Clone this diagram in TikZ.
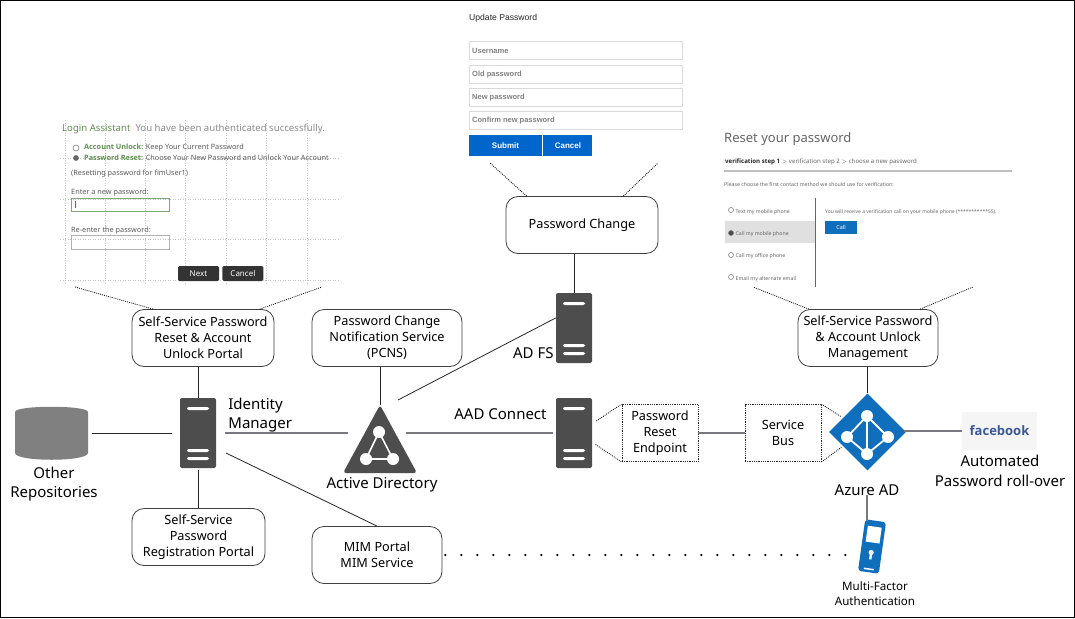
\documentclass[tikz,border=0pt]{standalone}
\usepackage{fontspec}
\setmainfont{Noto Sans}
\newfontfamily\formfont{Liberation Sans}
\newfontfamily\strongfont{Open Sans}
\usetikzlibrary{positioning,shapes.geometric}
\definecolor{srvgray}{HTML}{4D4D4D}
\definecolor{azblue}{HTML}{0F6FBD}
\definecolor{linegray}{HTML}{77797E}
\definecolor{formblue}{HTML}{0066CC}
\definecolor{loginGreen}{HTML}{5F9150}
\definecolor{fbblue}{HTML}{3B5998}
\begin{document}
\begin{tikzpicture}[x=1pt,y=-1pt,
    main/.style = {draw=black!75, rounded corners=12pt, line width=.8pt, align=center, inner sep=0pt,
      minimum height=57pt, font=\fontsize{12.7}{16}\selectfont},
    relay/.style = {draw=black!85, densely dotted, line width=.8pt, align=center, inner sep=0pt,
      minimum width=76pt, minimum height=57pt, font=\fontsize{12.7}{16}\selectfont},
    server/.style = {fill=srvgray, rounded corners=2pt, inner sep=0pt, minimum width=36pt, minimum height=70pt,
      path picture={
        \fill[white] ([xshift=7pt,yshift=-9pt]path picture bounding box.north west) rectangle ++(22pt,-3pt);
        \fill[white] ([xshift=7pt,yshift=-51pt]path picture bounding box.north west) rectangle ++(22pt,-3pt);
        \fill[white] ([xshift=7pt,yshift=-59pt]path picture bounding box.north west) rectangle ++(22pt,-3pt);}},
    caption/.style = {inner sep=0pt, align=center, font=\fontsize{15}{19.5}\selectfont},
    small/.style = {inner sep=0pt, align=center, font=\fontsize{11.6}{15.5}\selectfont},
    link/.style = {draw=black!85, line width=.8pt},
    heavy/.style = {draw=linegray, line width=1.3pt},
    leader/.style = {draw=black, line width=.8pt, dash pattern=on .9pt off 1.1pt},
    hub/.style = {white, line width=1.6pt},
    field/.style = {draw=black!15, line width=1pt, minimum width=213pt, minimum height=18pt, inner sep=0pt},
    hint/.style = {anchor=west, inner sep=0pt, text=black!50, font=\formfont\bfseries\fontsize{7.5}{9}\selectfont},
    formbtn/.style = {fill=formblue, text=white, minimum height=21pt, inner sep=0pt, font=\formfont\bfseries\fontsize{8}{9}\selectfont},
    logintxt/.style = {anchor=west, inner sep=0pt, text=black!65, font=\fontsize{7.3}{9}\selectfont},
    loginbtn/.style = {fill=black!80, text=white, rounded corners=1.5pt, minimum width=41pt, minimum height=15pt, inner sep=0pt, font=\fontsize{8}{9}\selectfont},
    resettxt/.style = {anchor=west, inner sep=0pt, text=black!60, font=\fontsize{5.2}{7}\selectfont},
    radio/.style = {circle, draw=black!55, line width=.5pt, fill=white, inner sep=0pt, minimum size=6pt}]
  \useasboundingbox (0,0) rectangle (1075,618);
  \fill[white] (0,0) rectangle (1075,618);
  \draw[black, line width=1.4pt] (.7,.7) rectangle (1074.3,617.3);
  %
  \foreach \gx in {65,105,145,185,226,266,307}
    \draw[black!22, dotted, line width=.5pt] (\gx,120) -- (\gx,283);
  \foreach \gy in {158,199,239,280}
    \draw[black!22, dotted, line width=.5pt] (60,\gy) -- (340,\gy);
  \node[inner sep=0pt, anchor=west, font=\fontsize{9.6}{12}\selectfont] (assist) at (62,129)
    {\textcolor{loginGreen}{Login Assistant}\hspace{5pt}\textcolor{black!45}{You have been authenticated successfully.}};
  \node[radio] (unlockdot) at (76,148) {};
  \node[radio, fill=black!60, draw=black!60, minimum size=5pt] (resetdot) at (76,158) {};
  \node[logintxt] (unlock) at (84,148) {\textcolor{loginGreen}{\strongfont\bfseries Account Unlock:} Keep Your Current Password};
  \node[logintxt] (reset) at (84,158) {\textcolor{loginGreen}{\strongfont\bfseries Password Reset:} Choose Your New Password and Unlock Your Account};
  \node[logintxt] (fimuser) at (71,174) {(Resetting password for fimUser1)};
  \node[logintxt] (enter) at (71,193) {Enter a new password:};
  \node[draw=loginGreen!80, line width=1pt, minimum width=98pt, minimum height=13pt, inner sep=0pt, anchor=north west] (newpw) at (71,198) {};
  \draw[black!60, line width=.5pt] (75,201) -- (75,208);
  \node[logintxt] (reenter) at (71,231) {Re-enter the password:};
  \node[draw=black!30, line width=1pt, minimum width=98pt, minimum height=14pt, inner sep=0pt, anchor=north west] (again) at (71,235) {};
  \node[loginbtn] (next) at (198.5,273.5) {Next};
  \node[loginbtn, right=3pt of next] (cancela) {Cancel};
  %
  \node[anchor=west, inner sep=0pt, text=black!85, font=\formfont\fontsize{8.6}{10}\selectfont] (update) at (469,18.5) {Update Password};
  \node[field] (user) at (575.5,50.5) {};
  \node[field] (oldpw) at (575.5,74) {};
  \node[field] (freshpw) at (575.5,97) {};
  \node[field] (confirm) at (575.5,120) {};
  \node[hint] (userh) at (472,50.5) {Username};
  \node[hint] (oldh) at (472,74.5) {Old password};
  \node[hint] (newh) at (472,97.5) {New password};
  \node[hint] (confh) at (472,120.5) {Confirm new password};
  \node[formbtn, minimum width=73pt] (submit) at (505.5,145.5) {Submit};
  \node[formbtn, minimum width=49pt, right=1pt of submit] (cancelb) {Cancel};
  %
  \node[anchor=west, inner sep=0pt, text=black!60, font=\fontsize{13}{16}\selectfont] (resettitle) at (724,139) {Reset your password};
  \node[anchor=west, inner sep=0pt, text=black!60, font=\fontsize{6.1}{8}\selectfont] (steps) at (725,161.5)
    {\textcolor{black!85}{\strongfont\bfseries verification step 1} $>$ verification step 2 $>$ choose a new password};
  \draw[black!25, line width=1.3pt] (724,171) -- (1012,171);
  \node[resettxt] (choose) at (724,185) {Please choose the first contact method we should use for verification:};
  \fill[black!12] (725,221) rectangle (815,243);
  \draw[black!60, line width=.7pt] (815,198) -- (815,287);
  \node[radio, minimum size=5pt] (r1) at (731,210) {};
  \node[radio, fill=black!70, minimum size=5pt] (r2) at (731,233) {};
  \node[radio, minimum size=5pt] (r3) at (731,255) {};
  \node[radio, minimum size=5pt] (r4) at (731,277) {};
  \node[resettxt] (t1) at (735.5,212) {Text my mobile phone};
  \node[resettxt] (t2) at (735.5,234.5) {Call my mobile phone};
  \node[resettxt] (t3) at (735.5,256.5) {Call my office phone};
  \node[resettxt] (t4) at (735.5,279) {Email my alternate email};
  \node[resettxt, font=\fontsize{5}{7}\selectfont] (receive) at (825,212.5) {You will receive a verification call on your mobile phone (***********55).};
  \node[fill=azblue, text=white, minimum width=32pt, minimum height=13pt, inner sep=0pt, font=\fontsize{5.5}{7}\selectfont] (callbtn) at (841,227.5) {Call};
  %
  \node[main, minimum width=142pt] (portal) at (203,338) {Self-Service Password\\Reset \& Account\\Unlock Portal};
  \node[main, minimum width=150pt] (pcns) at (387,338) {Password Change\\Notification Service\\(PCNS)};
  \node[main, minimum width=152pt] (change) at (582,225) {Password Change};
  \node[main, minimum width=140pt] (mgmt) at (868,338) {Self-Service Password\\\& Account Unlock\\Management};
  \node[main, minimum width=133pt] (regist) at (198.5,537) {Self-Service\\Password\\Registration Portal};
  \node[main, minimum width=130pt] (mim) at (377,555) {MIM Portal\\MIM Service};
  %
  \node[server] (imsrv) at (198,433) {};
  \node[server] (aadsrv) at (574,433) {};
  \node[server] (adfssrv) at (574,328) {};
  \node[relay] (endpoint) at (660,433) {Password\\Reset\\Endpoint};
  \node[relay] (sbus) at (783,433) {Service\\Bus};
  %
  \node[inner sep=0pt, minimum width=73pt, minimum height=53pt] (repos) at (51.5,433.5) {};
  \fill[black!50] (15,412) .. controls (15,405) and (88,405) .. (88,412) -- (88,453) .. controls (88,462) and (15,462) .. (15,453) -- cycle;
  \node[inner sep=0pt, minimum width=50pt, minimum height=50pt] (ad) at (380,433) {};
  \fill[srvgray, rounded corners=3pt] (380,405) -- (417,473) -- (343,473) -- cycle;
  \draw[hub] (379,432) -- (366,459) -- (393,459) -- cycle;
  \fill[white] (379,432) circle (6pt) (366,459) circle (6pt) (393,459) circle (6pt);
  \node[diamond, fill=azblue, inner sep=0pt, minimum width=77pt, minimum height=77pt] (azure) at (867.5,432) {};
  \draw[hub, line width=1.8pt] (867,416) -- (847,437) -- (867,454) -- (888,437) -- cycle (867,416) -- (867,454);
  \fill[white] (867,416) circle (6pt) (847,437) circle (6pt) (867,454) circle (6pt) (888,437) circle (6pt);
  %
  \node[fill=black!4, inner sep=0pt, minimum width=75pt, minimum height=38pt, text=fbblue, font=\strongfont\bfseries\fontsize{13}{16}\selectfont] (fb) at (999.5,431) {facebook};
  \node[rotate=-8, fill=azblue, rounded corners=3pt, inner sep=0pt, minimum width=21pt, minimum height=52pt] (phone) at (872,546.5) {};
  \begin{scope}[shift={(872,546.5)}, rotate=-8]
    \fill[white] (-7,-20) rectangle (7,-4);
    \fill[white] (0,6) circle (2.6pt);
    \fill[white] (-1.2,6) rectangle (1.2,13);
    \fill[white] (-5,22) rectangle (5,23.5);
  \end{scope}
  %
  \node[caption] (imname) [right=12pt of imsrv.east, yshift=18pt, align=left] {Identity\\Manager};
  \node[caption] (reposname) at (54,484) {Other\\Repositories};
  \node[caption] (adname) at (382,485) {Active Directory};
  \node[caption] (aadname) at (500.5,414) {AAD Connect};
  \node[caption] (adfsname) [left=2pt of adfssrv.west, yshift=-25pt] {AD FS};
  \node[caption] (azname) at (867,490) {Azure AD};
  \node[caption] (fbname) at (1000,471) {Automated\\Password roll-over};
  \node[small] (mfaname) at (875,593.5) {Multi-Factor\\Authentication};
  %
  \coordinate (adrim) at (398,400);
  \coordinate (ll) at (75,287);
  \coordinate (lr) at (322,287);
  \coordinate (ml) at (490,163);
  \coordinate (mr) at (658,163);
  \coordinate (rl) at (753,287);
  \coordinate (rr) at (973,287);
  %
  \draw[leader] (portal.150) -- (ll);
  \draw[leader] (portal.27) -- (lr);
  \draw[leader] (change.north west) ++(21pt,0) -- (ml);
  \draw[leader] (change.north east) ++(-35pt,0) -- (mr);
  \draw[leader] (mgmt.154.2) -- (rl);
  \draw[leader] (mgmt.29.7) -- (rr);
  %
  \draw[link, shorten <=4pt, shorten >=8pt] (repos.east |- imsrv) -- (imsrv.west);
  \draw[link] (imsrv.north |- portal.south) -- (imsrv.north);
  \draw[link, shorten <=2pt] (imsrv.south) -- (imsrv.south |- regist.north);
  \draw[heavy, shorten <=9pt, shorten >=7pt] (imsrv.east) -- (ad.west);
  \draw[link, shorten <=11pt] (imsrv.-40) -- (mim.north);
  \draw[link, shorten >=3pt] (ad.north |- pcns.south) -- (ad.north);
  \draw[link] (adrim) -- (adfssrv.151);
  \draw[heavy, shorten <=1pt, shorten >=3pt] (ad.east) -- (aadsrv.west);
  \draw[link] (change.south -| adfssrv.north) -- (adfssrv.north);
  \draw[leader, shorten <=5pt] (aadsrv.27) -- (endpoint.north west);
  \draw[leader, shorten <=4pt] (aadsrv.-27) -- (endpoint.south west);
  \draw[heavy] (endpoint.east) -- (sbus.west);
  \draw[leader, shorten >=2pt] (sbus.north east) -- (azure.150);
  \draw[leader, shorten >=2pt] (sbus.south east) -- (azure.210);
  \draw[link] (mgmt.south -| azure.north) -- (azure.north);
  \draw[heavy, shorten <=-2pt] (azure.east |- fb) -- (fb.west);
  \draw[heavy, shorten <=-1pt] (azname.south) -- (azname.south |- phone.north);
  \draw[black, line width=2.4pt, line cap=round, dash pattern=on 0pt off 16pt, shorten <=3pt, shorten >=10pt] (mim.east) -- (mim.east -| phone.west);
\end{tikzpicture}
\end{document}
